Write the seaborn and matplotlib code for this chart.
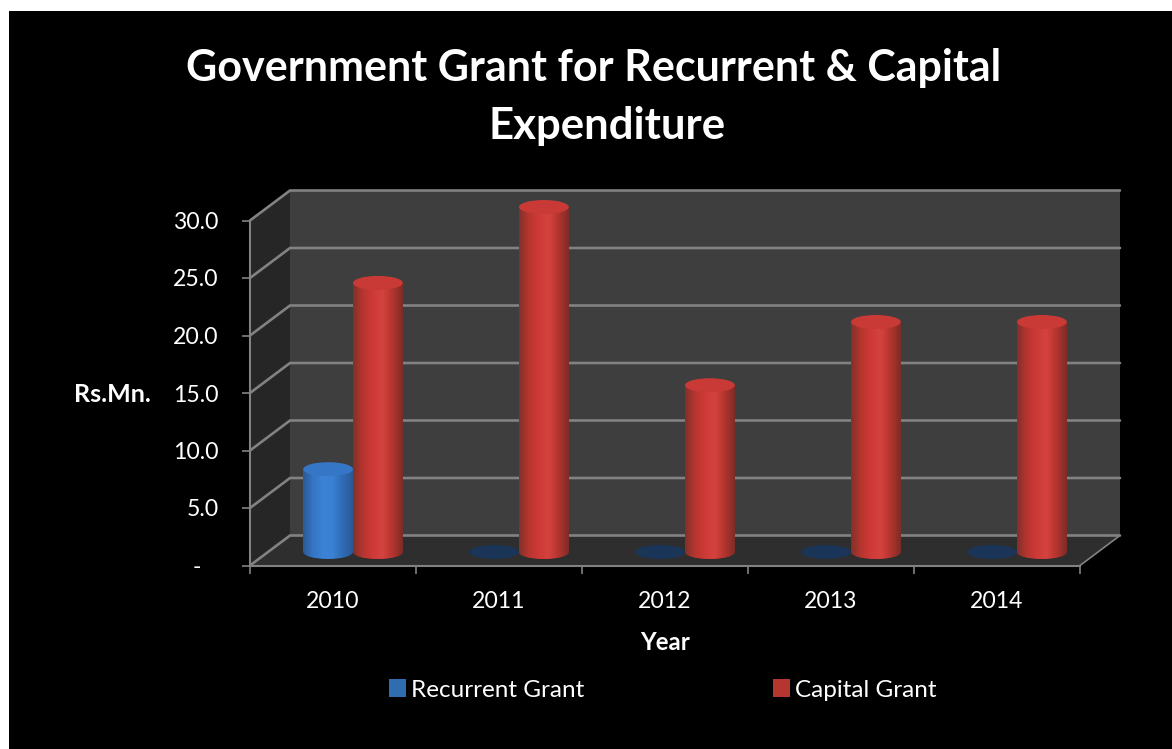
import numpy as np
import pandas as pd
import matplotlib
matplotlib.use('Agg')
import matplotlib.pyplot as plt
import matplotlib.transforms as mtrans
from matplotlib.colors import LinearSegmentedColormap
from matplotlib.patches import Ellipse, Polygon, Rectangle
import seaborn as sns

years = ['2010', '2011', '2012', '2013', '2014']
recurrent_grant = [7.2, 0, 0, 0, 0]
capital_grant = [23.4, 30.0, 14.5, 20.0, 20.0]
y_ticks = [0, 5, 10, 15, 20, 25, 30]
y_tick_labels = ['-   ', '5.0', '10.0', '15.0', '20.0', '25.0', '30.0']

W, H = 1172, 749
sns.set_theme(style='dark')
plt.rcParams['font.family'] = ['Lato', 'DejaVu Sans']

df = pd.DataFrame({
    'Year': years * 2,
    'Grant': recurrent_grant + capital_grant,
    'Type': ['Recurrent Grant'] * 5 + ['Capital Grant'] * 5,
})

fig = plt.figure(figsize=(W / 100, H / 100), dpi=100, facecolor='white')
# black panel, white only along the top and left edges
fig.patches.append(Rectangle((9 / W, 0), 1 - 9 / W, 1 - 11 / H, transform=fig.transFigure,
                             facecolor='black', edgecolor='none', figure=fig, zorder=-1))
ax = fig.add_axes([250 / W, 1 - 565.5 / H, 830 / W, 345 / H])
ax.patch.set_alpha(0)

sns.barplot(data=df, x='Year', y='Grant', hue='Type', width=0.6, gap=0,
            palette={'Recurrent Grant': '#2f6cb0', 'Capital Grant': '#b5352f'},
            saturation=1, ax=ax, zorder=5)
ax.set_xlim(-0.5, 4.5)
ax.set_ylim(0, 30)
ax.autoscale(False)

# fake 3D: depth of the box in data units
dx, dy = 40 / 166, 30 / 11.5
x0, x1 = -0.5, 4.5
grid = '#828282'
ax.add_patch(Polygon([(x0 + dx, dy), (x1 + dx, dy), (x1 + dx, 30 + dy), (x0 + dx, 30 + dy)],
                     facecolor='#3e3e3e', edgecolor='none', clip_on=False, zorder=0))
ax.add_patch(Polygon([(x0, 0), (x0 + dx, dy), (x0 + dx, 30 + dy), (x0, 30)],
                     facecolor='#262626', edgecolor='none', clip_on=False, zorder=0))
ax.add_patch(Polygon([(x0, 0), (x1, 0), (x1 + dx, dy), (x0 + dx, dy)],
                     facecolor='#2e2e2e', edgecolor='none', clip_on=False, zorder=0))
for t in y_ticks:
    ax.plot([x0, x0 + dx, x1 + dx], [t, t + dy, t + dy], color=grid, lw=1.9,
            clip_on=False, zorder=1, solid_joinstyle='miter')
ax.plot([x1, x1 + dx], [0, dy], color=grid, lw=1.2, clip_on=False, zorder=1)

# cylinders sit half way into the box
shift = mtrans.Affine2D().translate(dx / 2, 0.45 * dy) + ax.transData
red_cmap = LinearSegmentedColormap.from_list('red', ['#82302a', '#b8352f', '#cf3a38', '#d4423f', '#b3342e', '#7c2c26'])
blue_cmap = LinearSegmentedColormap.from_list('blue', ['#2a5a96', '#3576c4', '#3c82d6', '#3a80d4', '#2f6bb4', '#2a5a96'])
gradient = np.linspace(0, 1, 128).reshape(1, -1)
cap_h = 14 / 11.5


def shade(patch, x, w, y, h, cmap, z):
    im = ax.imshow(gradient, cmap=cmap, aspect='auto', extent=[x, x + w, y, y + h],
                   transform=shift, zorder=z, interpolation='bilinear')
    im.set_clip_path(patch.get_path(), patch.get_transform())
    im.set_clip_box(fig.bbox)


for n, (container, cmap, cap, disc) in enumerate(zip(ax.containers, [blue_cmap, red_cmap],
                                                     ['#3577c6', '#c93a36'], ['#1a3557', '#8a2c27'])):
    for bar in container:
        x, w, h = bar.get_x(), bar.get_width(), bar.get_height()
        bar.set_visible(False)
        cx = x + w / 2
        z = 5 + n
        base = Ellipse((cx, 0), w, cap_h, transform=shift, facecolor=disc, edgecolor='none',
                       clip_on=False, zorder=z)
        ax.add_patch(base)
        if h > 0:
            shade(base, x, w, -cap_h / 2, cap_h, cmap, z)
            body = Rectangle((x, 0), w, h, transform=shift, facecolor='none', edgecolor='none')
            ax.add_patch(body)
            shade(body, x, w, 0, h, cmap, z)
            ax.add_patch(Ellipse((cx, h), w, cap_h, transform=shift, facecolor=cap, edgecolor='none',
                                 clip_on=False, zorder=z + 0.5))

ax.set_xlim(-0.5, 4.5)
ax.set_ylim(0, 30)

ax.set_yticks(y_ticks, y_tick_labels)
ax.set_xticks(range(5), years)
ax.set_xticks(np.arange(-0.5, 5), minor=True)
ax.tick_params(axis='x', which='major', length=0, pad=18.5, labelsize=16.6, labelcolor='white')
ax.tick_params(axis='x', which='minor', length=5.5, width=1.2, color=grid, bottom=True)
ax.tick_params(axis='y', length=6, width=1.2, color=grid, left=True, pad=16.5, labelsize=16.6, labelcolor='white')
for side in ['top', 'right']:
    ax.spines[side].set_visible(False)
for side in ['left', 'bottom']:
    ax.spines[side].set_color(grid)
    ax.spines[side].set_linewidth(1.5)
    ax.spines[side].set_zorder(2)
ax.grid(False)

ax.set_xlabel('Year', fontsize=17.4, fontweight='bold', color='white', va='center')
ax.xaxis.set_label_coords(0.5, (565.5 - 643) / 345, transform=ax.transAxes)
ax.set_ylabel('Rs.Mn.', fontsize=18, fontweight='bold', color='white', rotation=0, ha='center', va='center')
ax.yaxis.set_label_coords((112.5 - 250) / 830, (565.5 - 395) / 345, transform=ax.transAxes)

fig.text(594 / W, 1 - 81 / H, 'Government Grant for Recurrent & Capital', ha='center', va='baseline',
         fontsize=31, fontweight='bold', color='white')
fig.text(607 / W, 1 - 139.5 / H, 'Expenditure', ha='center', va='baseline',
         fontsize=31.5, fontweight='bold', color='white')

sns.move_legend(ax, 'center left', bbox_to_anchor=(389 / W, 1 - 690 / H), bbox_transform=fig.transFigure,
                ncol=2, frameon=False, title=None, fontsize=17.5, labelcolor='white', borderpad=0, borderaxespad=0,
                columnspacing=7.76, handlelength=0.68, handleheight=0.7, handletextpad=0.23)
for handle in ax.get_legend().legend_handles:
    handle.set_edgecolor('none')

fig.savefig('out.png', dpi=100, facecolor='white')
